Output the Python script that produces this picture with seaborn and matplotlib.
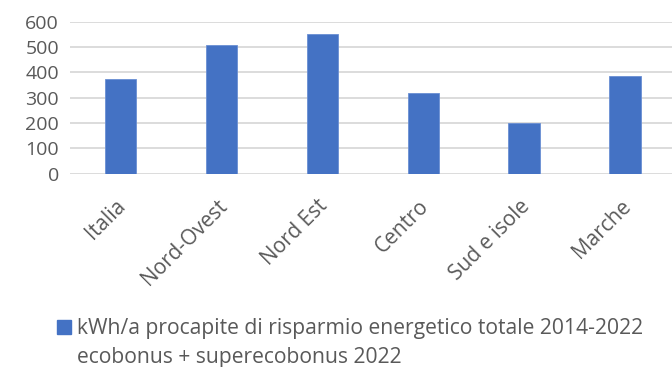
import matplotlib
matplotlib.use("Agg")
import matplotlib.pyplot as plt
import matplotlib.transforms as mtransforms
from matplotlib.patches import Patch
import seaborn as sns
import pandas as pd

# Regional per-capita energy savings (kWh/a)
regions = ["Italia", "Nord-Ovest", "Nord Est", "Centro", "Sud e isole", "Marche"]
savings = [374, 508, 552, 320, 198, 386]
yticks = [0, 100, 200, 300, 400, 500, 600]
series_label = "kWh/a procapite di risparmio energetico totale 2014-2022"
series_label_2 = "ecobonus + superecobonus 2022"

bar_color = "#4472C4"
text_color = "#595959"
grid_color = "#D9D9D9"

sns.set_theme(style="white")
plt.rcParams["font.family"] = ["Open Sans", "DejaVu Sans"]

df = pd.DataFrame({"region": regions, "savings": savings})

W, H = 672, 367
fig = plt.figure(figsize=(W / 100, H / 100), dpi=100)
ax = fig.add_axes([70 / W, (H - 173.5) / H, 605.5 / W, 151.8 / H])

sns.barplot(data=df, x="region", y="savings", color=bar_color, width=0.31,
            saturation=1, ax=ax, zorder=3, edgecolor="#6A8FD3", linewidth=0.6)

ax.set_ylim(0, 600)
ax.set_xlim(-0.5, len(regions) - 0.5)
ax.set_yticks(yticks)
ax.set_yticklabels([str(v) for v in yticks])
for v in yticks:
    ax.axhline(v, color=grid_color, lw=1.3, zorder=1)

ax.set_xlabel("")
ax.set_ylabel("")
for s in ax.spines.values():
    s.set_visible(False)
ax.tick_params(axis="both", length=0, colors=text_color)
ax.tick_params(axis="y", pad=8, labelsize=14)
ax.tick_params(axis="x", pad=16, labelsize=15)
for lbl in ax.get_yticklabels():
    lbl.set_horizontalalignment("right")
shift = mtransforms.ScaledTranslation(-5 / 100, 0, fig.dpi_scale_trans)
for lbl in ax.get_xticklabels():
    lbl.set_rotation(45)
    lbl.set_ha("right")
    lbl.set_va("top")
    lbl.set_rotation_mode("anchor")
    lbl.set_transform(lbl.get_transform() + shift)

handles = [Patch(facecolor=bar_color, edgecolor=bar_color),
           Patch(facecolor="none", edgecolor="none")]
leg = fig.legend(handles, [series_label, series_label_2],
                 loc="upper left", bbox_to_anchor=(57 / W, 1 - 318 / H),
                 frameon=False, fontsize=15.2, handlelength=0.65, handleheight=0.65,
                 handletextpad=0.3, labelspacing=0.38, borderaxespad=0,
                 borderpad=0)
for t in leg.get_texts():
    t.set_color(text_color)

fig.savefig("out.png", dpi=100)
